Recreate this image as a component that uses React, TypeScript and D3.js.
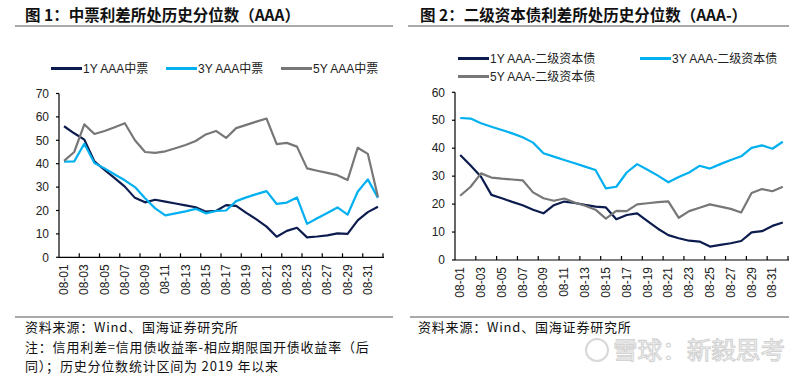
import React from 'react';
import * as d3 from 'd3';

const categories = [
  '08-01','08-02','08-03','08-04','08-05','08-06','08-07','08-08','08-09','08-10',
  '08-11','08-12','08-13','08-14','08-15','08-16','08-17','08-18','08-19','08-20',
  '08-21','08-22','08-23','08-24','08-25','08-26','08-27','08-28','08-29','08-30',
  '08-31','09-01',
];

// Figure 1: 中票
const mtn1Y = [56, 53, 50.3, 41, 37.3, 33.8, 30.2, 25.4, 23.5, 24.6, 23.8, 23, 22.2, 21.4, 19.5, 19.8, 22.3, 22, 19, 16.2, 13.1, 8.8, 11.3, 12.6, 8.5, 8.9, 9.4, 10.2, 10, 15.8, 19.3, 21.6];
const mtn3Y = [40.9, 41, 48.5, 40.3, 38, 35.4, 32.9, 30, 25.2, 20.9, 17.9, 18.8, 19.6, 20.7, 18.8, 19.8, 20, 24, 25.6, 27, 28.3, 22.8, 23.4, 25.6, 14.3, 16.7, 18.9, 21.3, 18.2, 28, 33.3, 25.4];
const mtn5Y = [41.2, 45, 56.8, 52.7, 54, 55.6, 57.3, 50, 45, 44.6, 45.3, 46.6, 48, 49.7, 52.5, 54, 51, 55.2, 56.6, 58, 59.3, 48.4, 48.9, 47.3, 38, 37, 36.1, 35.1, 33, 46.8, 44.2, 25.8];

// Figure 2: 二级资本债
const cap1Y = [37.6, 33.8, 29.8, 23.3, 22.1, 20.8, 19.6, 18, 16.7, 19.6, 20.9, 20.4, 19.7, 19.1, 18.8, 14.6, 16.1, 16.7, 13.9, 11.2, 8.9, 7.8, 6.9, 6.6, 4.8, 5.4, 6, 6.8, 9.9, 10.3, 12.2, 13.4];
const cap3Y = [50.8, 50.6, 48.9, 47.7, 46.5, 45.3, 43.9, 42, 38.2, 37, 35.8, 34.6, 33.4, 32.2, 25.6, 26.2, 31.3, 34.3, 32.3, 30.2, 27.8, 29.7, 31.3, 33.7, 32.7, 34.3, 35.8, 37.1, 40.1, 41, 39.8, 42.3];
const cap5Y = [23, 26.2, 31, 29.5, 29.1, 28.8, 28.5, 24.2, 22.1, 21.2, 22, 20.6, 19.4, 18, 14.8, 17.6, 17.5, 19.9, 20.3, 20.7, 21, 15.1, 17.5, 18.7, 19.9, 19.1, 18.3, 17, 24, 25.4, 24.6, 26.2];

const leftNames = ['1Y AAA中票', '3Y AAA中票', '5Y AAA中票'];
const rightNames = ['1Y AAA-二级资本债', '3Y AAA-二级资本债', '5Y AAA-二级资本债'];
const leftYTicks = [0, 10, 20, 30, 40, 50, 60, 70];
const rightYTicks = [0, 10, 20, 30, 40, 50, 60];

const title1 = '图 1：中票利差所处历史分位数（AAA）';
const title2 = '图 2：二级资本债利差所处历史分位数（AAA-）';
const source = '资料来源：Wind、国海证券研究所';
const note1 = '注：信用利差=信用债收益率-相应期限国开债收益率（后';
const note2 = '同）；历史分位数统计区间为 2019 年以来';
const watermark = '雪球：新毅思考';

const NAVY = '#0c1c4e';
const CYAN = '#00b0f0';
const GRAY = '#777777';
const COLORS = [NAVY, CYAN, GRAY];

const FONT = '"Liberation Sans", Arial, "Noto Sans CJK SC", sans-serif';
const CJK = '"Noto Sans CJK SC", "Liberation Sans", sans-serif';

type PanelProps = {
  left: number; right: number; bottom: number; top: number;
  yTicks: number[]; series: number[][];
};

function Panel({ left, right, bottom, top, yTicks, series }: PanelProps) {
  const x = d3.scaleBand<string>().domain(categories).range([left, right]).padding(0);
  const y = d3.scaleLinear().domain([0, yTicks[yTicks.length - 1]]).range([bottom, top]);
  const bw = x.bandwidth();
  const cx = (i: number) => (x(categories[i]) as number) + bw / 2;
  const line = d3.line<number>().x((_, i) => cx(i)).y((d) => y(d));
  const tickXs = categories.map((c, i) => i).filter((i) => i % 2 === 0 && i > 0).map((i) => x(categories[i]) as number).concat([right]);
  return (
    <g>
      {series.map((s, k) => (
        <path key={k} d={line(s) || ''} fill="none" stroke={COLORS[k]} strokeWidth={2.2} strokeLinejoin="round" />
      ))}
      <line x1={left} x2={left} y1={bottom} y2={y(yTicks[yTicks.length - 1])} stroke="#000" strokeWidth={1.2} />
      {yTicks.map((t) => (
        <g key={t}>
          <line x1={left - 3} x2={left} y1={y(t)} y2={y(t)} stroke="#000" strokeWidth={1.2} />
          <text x={left - 10} y={y(t)} dy="0.35em" textAnchor="end" fontSize={12} fontFamily={FONT} fill="#222">{t}</text>
        </g>
      ))}
      <line x1={left} x2={right + 1} y1={bottom} y2={bottom} stroke="#000" strokeWidth={1.2} />
      {tickXs.map((tx, i) => (
        <line key={i} x1={tx} x2={tx} y1={bottom} y2={bottom - 4} stroke="#000" strokeWidth={1.2} />
      ))}
      {categories.map((c, i) => i % 2 === 0 ? (
        <text key={c} transform={`translate(${cx(i) + 4},${bottom + 7}) rotate(-90)`} textAnchor="end" fontSize={12} fontFamily={FONT} fill="#222">{c}</text>
      ) : null)}
    </g>
  );
}

function Legend({ items }: { items: { x: number; y: number; name: string; color: string }[] }) {
  return (
    <g>
      {items.map((it) => (
        <g key={it.name}>
          <line x1={it.x} x2={it.x + 31} y1={it.y} y2={it.y} stroke={it.color} strokeWidth={3} />
          <text x={it.x + 32} y={it.y} dy="0.36em" fontSize={12} fontFamily={FONT} fill="#222">{it.name}</text>
        </g>
      ))}
    </g>
  );
}

export default function App() {
  return (
    <svg width={800} height={376} viewBox="0 0 800 376" style={{ position: 'absolute', left: 0, top: 0, background: '#fff' }}>
      <rect x={0} y={0} width={800} height={376} fill="#fff" />
      {/* titles */}
      <text x={25} y={21} fontSize={15.5} fontWeight="bold" fontFamily={CJK} fill="#111">{title1}</text>
      <text x={420} y={21} fontSize={15.5} fontWeight="bold" fontFamily={CJK} fill="#111">{title2}</text>
      <line x1={15} x2={393} y1={26} y2={26} stroke="#555" strokeWidth={1.2} />
      <line x1={408} x2={789} y1={26} y2={26} stroke="#555" strokeWidth={1.2} />

      <Legend items={[
        { x: 51, y: 68.5, name: leftNames[0], color: NAVY },
        { x: 166, y: 68.5, name: leftNames[1], color: CYAN },
        { x: 281, y: 68.5, name: leftNames[2], color: GRAY },
      ]} />
      <Legend items={[
        { x: 458, y: 58.5, name: rightNames[0], color: NAVY },
        { x: 640, y: 58.5, name: rightNames[1], color: CYAN },
        { x: 458, y: 76.5, name: rightNames[2], color: GRAY },
      ]} />

      <Panel left={59} right={383} bottom={257.3} top={93.5} yTicks={leftYTicks} series={[mtn1Y, mtn3Y, mtn5Y]} />
      <Panel left={455} right={788} bottom={260} top={92.3} yTicks={rightYTicks} series={[cap1Y, cap3Y, cap5Y]} />

      {/* footer */}
      <line x1={15} x2={393} y1={317} y2={317} stroke="#555" strokeWidth={1.2} />
      <line x1={410} x2={789} y1={317} y2={317} stroke="#555" strokeWidth={1.2} />
      <text x={25} y={332} fontSize={13} letterSpacing={0.8} fontFamily={CJK} fill="#111">{source}</text>
      <text x={418} y={332} fontSize={13} letterSpacing={0.8} fontFamily={CJK} fill="#111">{source}</text>
      <text x={25} y={351.5} fontSize={13} letterSpacing={0.8} fontFamily={CJK} fill="#111">{note1}</text>
      <text x={25} y={371} fontSize={13} letterSpacing={0.8} fontFamily={CJK} fill="#111">{note2}</text>

      {/* watermark */}
      <g opacity={0.9}>
        <circle cx={597} cy={350} r={11} fill="none" stroke="#d4d4d4" strokeWidth={2} />
        <text x={613} y={359} fontSize={24} textLength={172} lengthAdjust="spacingAndGlyphs" fontFamily={CJK} fill="#fff" stroke="#cfcfcf" strokeWidth={1.1}>{watermark}</text>
      </g>
    </svg>
  );
}
